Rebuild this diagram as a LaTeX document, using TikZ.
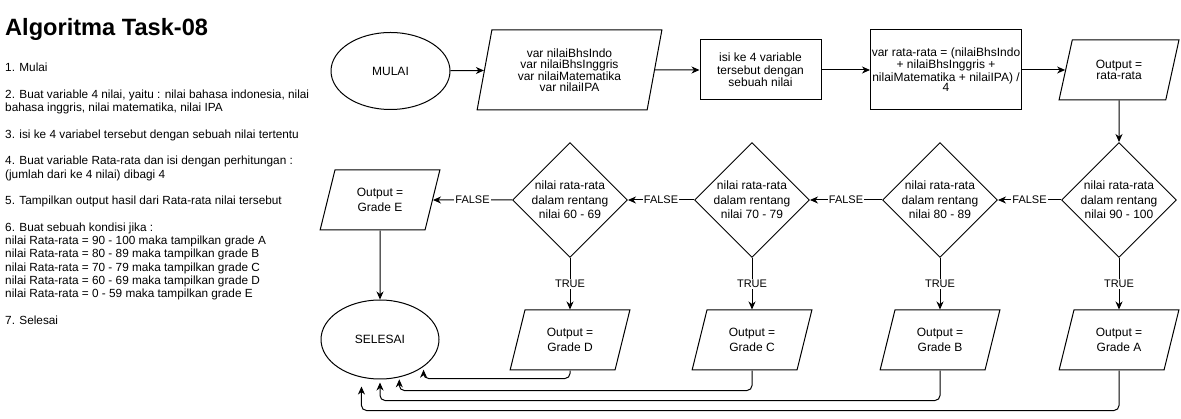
\documentclass[tikz,border=0pt]{standalone}
\usepackage{fontspec}
\setmainfont{Liberation Sans}
\usetikzlibrary{shapes.geometric,arrows.meta}
\tikzset{
  figbox/.style={draw=black, line width=1pt, align=center, inner sep=0pt, font=\fontsize{12}{11}\selectfont},
  term/.style={figbox, ellipse, minimum width=119, minimum height=77},
  proc/.style={figbox, rectangle},
  io/.style={figbox, trapezium, trapezium left angle=72, trapezium right angle=108, trapezium stretches=true, minimum width=120, minimum height=60, font=\fontsize{12}{15}\selectfont},
  cond/.style={figbox, diamond, minimum width=110, minimum height=110, font=\fontsize{12}{14.7}\selectfont},
  flow/.style={line width=1pt, -{Stealth[length=8pt,width=7pt,inset=2.5pt]}},
  back/.style={flow, rounded corners=5pt},
  lbl/.style={fill=white, inner sep=1pt, font=\fontsize{11}{11}\selectfont},
}

\begin{document}
\begin{tikzpicture}[x=1pt,y=-1pt]
\useasboundingbox (0,0) rectangle (1181,419);
\node[anchor=base west, inner sep=0pt, font=\bfseries\fontsize{23.6}{26}\selectfont] (title) at (5,36) {Algoritma Task-08};
\node[anchor=north west, inner sep=0pt, align=left, font=\fontsize{11.8}{13.3}\selectfont] (steps) at (5,63) {%
1. Mulai\\[13.3pt]
2. Buat variable 4 nilai, yaitu : nilai bahasa indonesia, nilai\\
bahasa inggris, nilai matematika, nilai IPA\\[13.3pt]
3. isi ke 4 variabel tersebut dengan sebuah nilai tertentu\\[13.3pt]
4. Buat variable Rata-rata dan isi dengan perhitungan :\\
(jumlah dari ke 4 nilai) dibagi 4\\[13.3pt]
5. Tampilkan output hasil dari Rata-rata nilai tersebut\\[13.3pt]
6. Buat sebuah kondisi jika :\\
nilai Rata-rata = 90 - 100 maka tampilkan grade A\\
nilai Rata-rata = 80 - 89 maka tampilkan grade B\\
nilai Rata-rata = 70 - 79 maka tampilkan grade C\\
nilai Rata-rata = 60 - 69 maka tampilkan grade D\\
nilai Rata-rata = 0 - 59 maka tampilkan grade E\\[13.3pt]
7. Selesai};

\node[term] (mulai) at (390.5,71) {MULAI};
\node[io, minimum width=185, minimum height=80, trapezium left angle=77, trapezium right angle=103, font=\fontsize{12}{10.8}\selectfont] (vars) at (569.5,70) {var nilaiBhsIndo\\var nilaiBhsInggris\\var nilaiMatematika\\var nilaiIPA};
\node[proc, minimum width=121, minimum height=60, font=\fontsize{12}{12.5}\selectfont] (isi) at (760.5,70) {isi ke 4 variable\\tersebut dengan\\sebuah nilai};
\node[proc, minimum width=151, minimum height=80, font=\fontsize{12}{10.8}\selectfont] (hitung) at (946,70) {var rata-rata = (nilaiBhsIndo\\+ nilaiBhsInggris +\\nilaiMatematika + nilaiIPA) /\\4};
\node[io, font=\fontsize{12}{11.7}\selectfont] (outavg) at (1119,70) {Output =\\rata-rata};

\node[cond] (d90) at (1119,200) {nilai rata-rata\\dalam rentang\\nilai 90 - 100};
\node[cond] (d80) at (940,200) {nilai rata-rata\\dalam rentang\\nilai 80 - 89};
\node[cond] (d70) at (752,200) {nilai rata-rata\\dalam rentang\\nilai 70 - 79};
\node[cond] (d60) at (570,200) {nilai rata-rata\\dalam rentang\\nilai 60 - 69};
\node[io] (gradeE) at (380,200) {Output =\\Grade E};

\node[io] (gradeA) at (1119,340) {Output =\\Grade A};
\node[io] (gradeB) at (940,340) {Output =\\Grade B};
\node[io] (gradeC) at (752,340) {Output =\\Grade C};
\node[io] (gradeD) at (570,340) {Output =\\Grade D};
\node[term, minimum width=118, minimum height=79] (selesai) at (380,339.5) {SELESAI};

\draw[flow] (mulai) -- (vars);
\draw[flow] (vars) -- (isi);
\draw[flow] (isi) -- (hitung);
\draw[flow] (hitung) -- (outavg);
\draw[flow] (outavg) -- (d90);

\draw[flow] (d90) -- node[lbl] {FALSE} (d80);
\draw[flow] (d80) -- node[lbl] {FALSE} (d70);
\draw[flow] (d70) -- node[lbl] {FALSE} (d60);
\draw[flow] (d60) -- node[lbl] {FALSE} (gradeE);

\draw[flow] (d90) -- node[lbl] {TRUE} (gradeA);
\draw[flow] (d80) -- node[lbl] {TRUE} (gradeB);
\draw[flow] (d70) -- node[lbl] {TRUE} (gradeC);
\draw[flow] (d60) -- node[lbl] {TRUE} (gradeD);
\draw[flow] (gradeE) -- (selesai);

\draw[back, shorten >=3pt] (gradeD.south) -- ++(0,8) -| (selesai.-32);
\draw[back, shorten >=2pt] (gradeC.south) -- ++(0,20) -| (selesai.-63);
\draw[back, shorten >=3pt] (gradeB.south) -- ++(0,30) -| (selesai.south);
\draw[back, shorten >=9pt] (gradeA.south) -- ++(0,40) -| (selesai.-116);
\end{tikzpicture}
\end{document}
